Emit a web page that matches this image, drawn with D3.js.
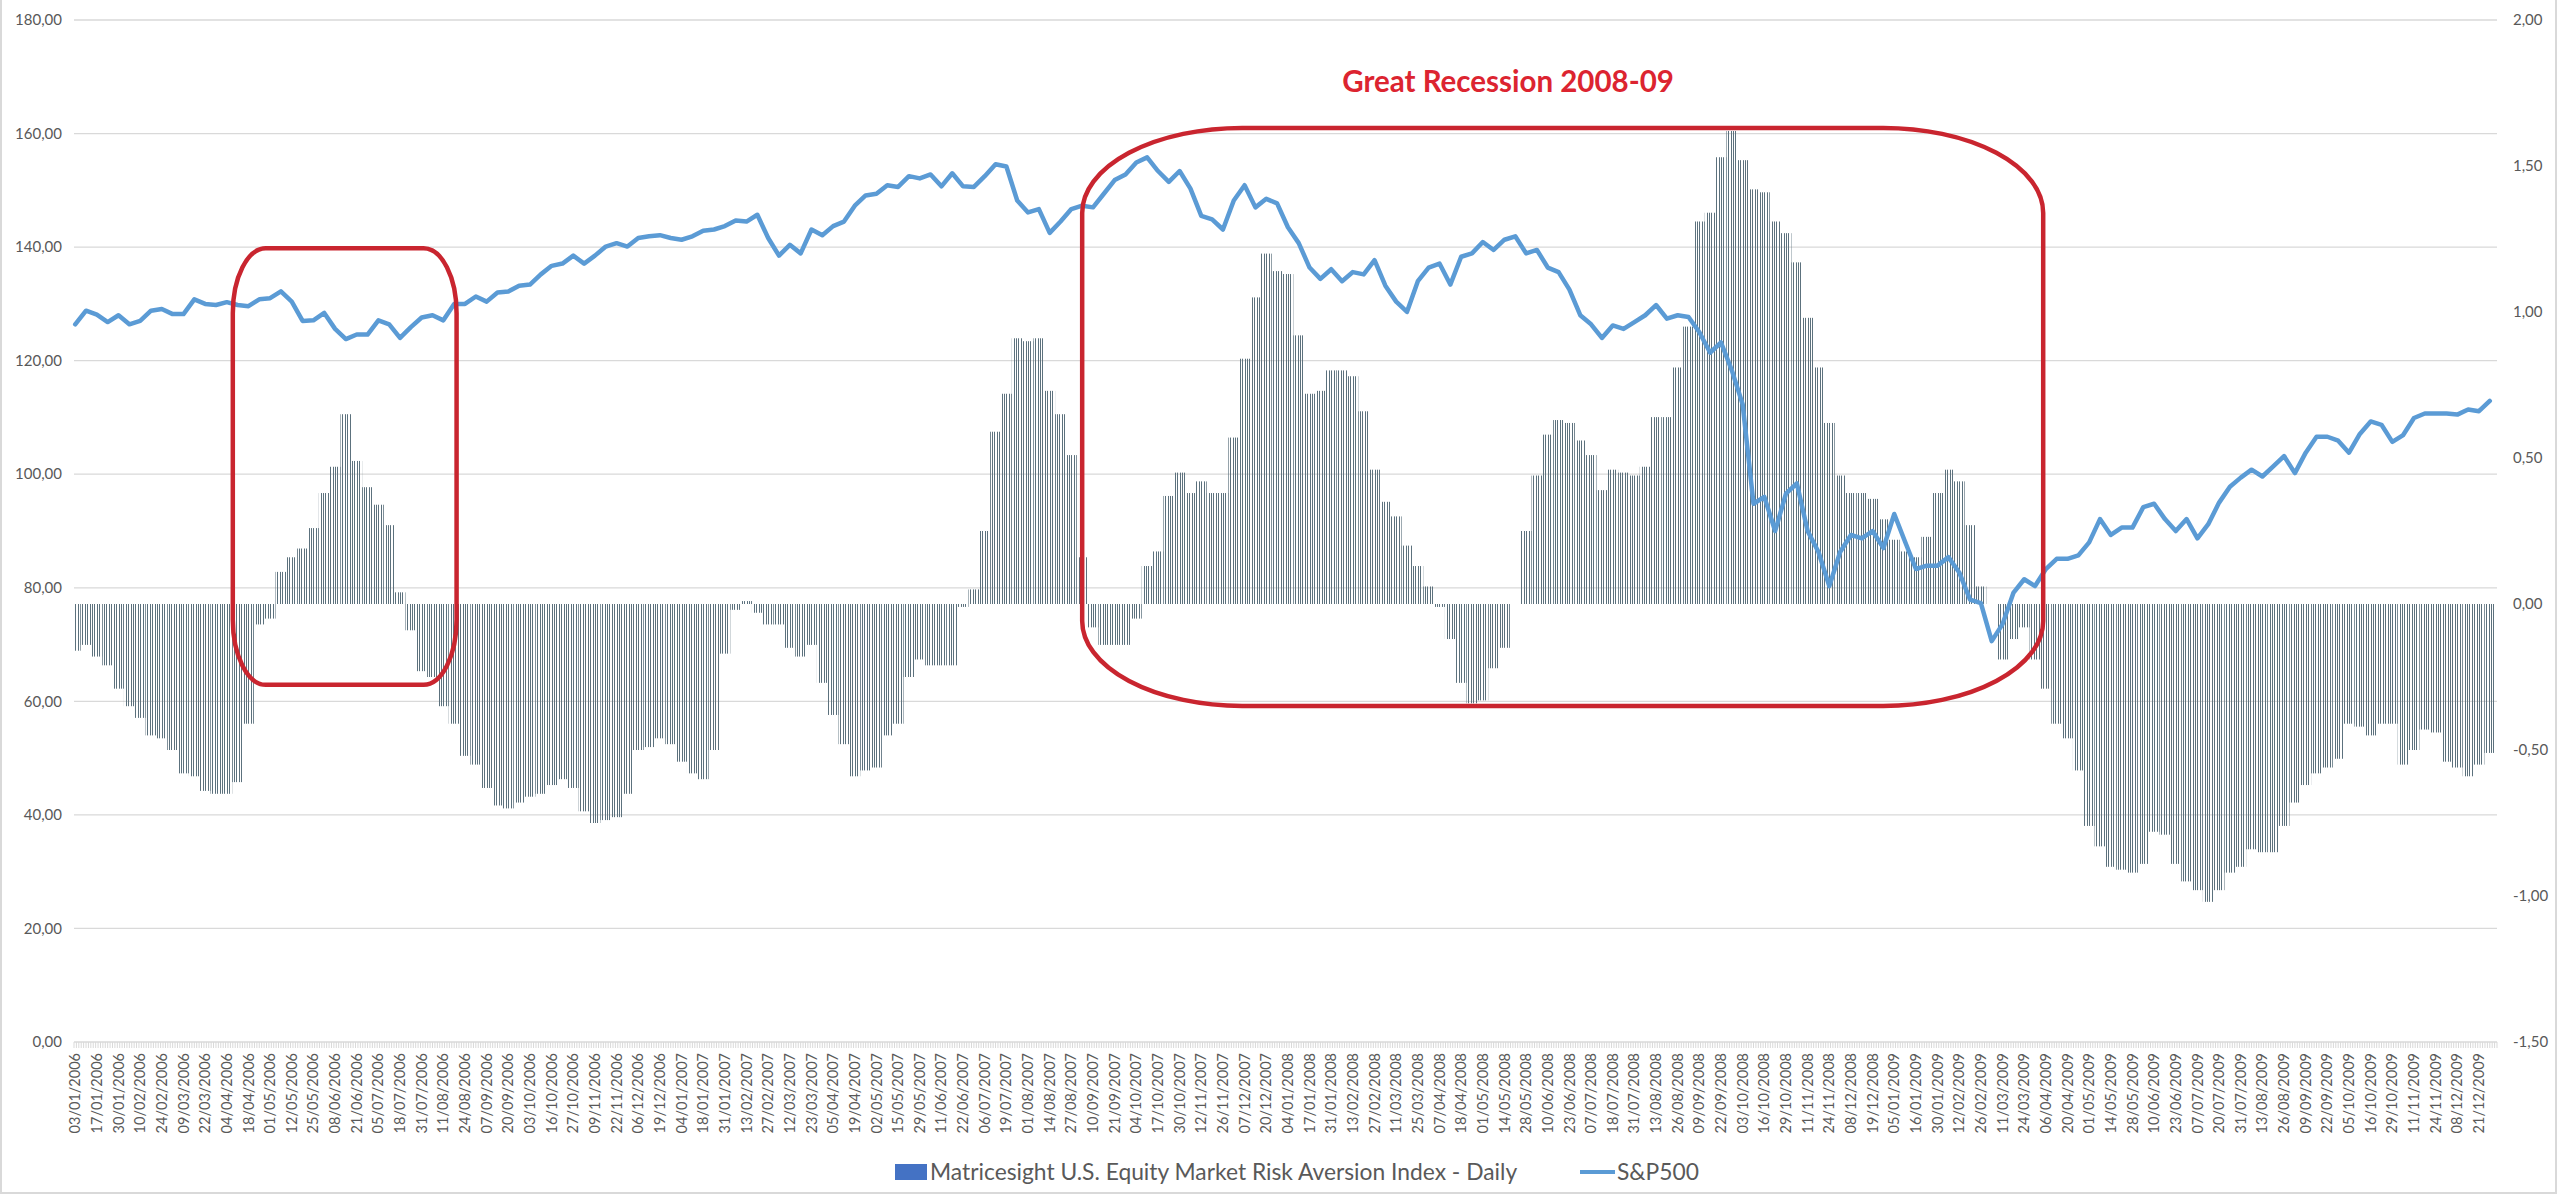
<!doctype html>
<html>
<head>
<meta charset="utf-8">
<script src="https://cdn.jsdelivr.net/npm/d3@7"></script>
<style>
  body { margin: 0; background: #fff; }
  svg { display: block; font-family: Lato, "Open Sans", sans-serif; }
</style>
</head>
<body>
<svg width="2560" height="1196"></svg>
<script>
// category labels, one every 9 trading days
var dateLabels = [
  "03/01/2006","17/01/2006","30/01/2006","10/02/2006","24/02/2006","09/03/2006","22/03/2006","04/04/2006","18/04/2006","01/05/2006",
  "12/05/2006","25/05/2006","08/06/2006","21/06/2006","05/07/2006","18/07/2006","31/07/2006","11/08/2006","24/08/2006","07/09/2006",
  "20/09/2006","03/10/2006","16/10/2006","27/10/2006","09/11/2006","22/11/2006","06/12/2006","19/12/2006","04/01/2007","18/01/2007",
  "31/01/2007","13/02/2007","27/02/2007","12/03/2007","23/03/2007","05/04/2007","19/04/2007","02/05/2007","15/05/2007","29/05/2007",
  "11/06/2007","22/06/2007","06/07/2007","19/07/2007","01/08/2007","14/08/2007","27/08/2007","10/09/2007","21/09/2007","04/10/2007",
  "17/10/2007","30/10/2007","12/11/2007","26/11/2007","07/12/2007","20/12/2007","04/01/2008","17/01/2008","31/01/2008","13/02/2008",
  "27/02/2008","11/03/2008","25/03/2008","07/04/2008","18/04/2008","01/05/2008","14/05/2008","28/05/2008","10/06/2008","23/06/2008",
  "07/07/2008","18/07/2008","31/07/2008","13/08/2008","26/08/2008","09/09/2008","22/09/2008","03/10/2008","16/10/2008","29/10/2008",
  "11/11/2008","24/11/2008","08/12/2008","19/12/2008","05/01/2009","16/01/2009","30/01/2009","12/02/2009","26/02/2009","11/03/2009",
  "24/03/2009","06/04/2009","20/04/2009","01/05/2009","14/05/2009","28/05/2009","10/06/2009","23/06/2009","07/07/2009","20/07/2009",
  "31/07/2009","13/08/2009","26/08/2009","09/09/2009","22/09/2009","05/10/2009","16/10/2009","29/10/2009","11/11/2009","24/11/2009",
  "08/12/2009","21/12/2009"
];

// risk aversion index, read at each label and half way between (every 4.5 trading days)
var riskAversion = [
  -0.16,-0.14,-0.18,-0.21,-0.29,-0.35,-0.39,-0.45,-0.46,-0.50,-0.58,-0.59,-0.64,-0.65,-0.65,-0.61,-0.41,-0.07,-0.05,0.11,
  0.16,0.19,0.26,0.38,0.47,0.65,0.49,0.40,0.34,0.27,0.04,-0.09,-0.23,-0.25,-0.35,-0.41,-0.52,-0.55,
  -0.63,-0.69,-0.70,-0.68,-0.66,-0.65,-0.62,-0.60,-0.63,-0.71,-0.75,-0.74,-0.73,-0.65,-0.50,-0.49,-0.46,-0.48,-0.54,-0.58,
  -0.60,-0.50,-0.17,-0.02,0.01,-0.03,-0.07,-0.07,-0.15,-0.18,-0.14,-0.27,-0.38,-0.48,-0.59,-0.57,
  -0.56,-0.45,-0.41,-0.25,-0.19,-0.21,-0.21,-0.21,-0.01,0.05,0.25,0.59,0.72,0.91,0.90,0.91,0.73,0.65,0.51,0.16,
  -0.08,-0.14,-0.14,-0.14,-0.05,0.13,0.18,0.37,0.45,0.38,0.42,0.38,0.38,0.57,0.84,1.05,1.20,1.14,
  1.13,0.92,0.72,0.73,0.80,0.80,0.78,0.66,0.46,0.35,0.30,0.20,0.13,0.06,-0.01,-0.12,-0.27,-0.34,-0.33,-0.22,
  -0.15,0.00,0.25,0.44,0.58,0.63,0.62,0.56,0.51,0.39,0.46,0.45,0.44,0.47,0.64,0.64,0.81,
  0.95,1.31,1.34,1.53,1.62,1.52,1.42,1.41,1.31,1.27,1.17,0.98,0.81,0.62,0.44,0.38,0.38,0.36,0.29,0.22,
  0.18,0.16,0.23,0.38,0.46,0.42,0.27,0.06,0.00,-0.19,-0.12,-0.08,-0.19,-0.29,-0.41,-0.46,-0.57,
  -0.76,-0.83,-0.90,-0.91,-0.92,-0.89,-0.78,-0.79,-0.89,-0.95,-0.98,-1.02,-0.98,-0.92,-0.90,-0.84,-0.85,-0.85,-0.76,-0.68,
  -0.62,-0.58,-0.56,-0.53,-0.41,-0.42,-0.45,-0.41,-0.41,-0.55,-0.50,-0.43,-0.44,-0.54,-0.56,-0.59,-0.55,-0.51
];

// S&P500 (scaled /10), same sample points
var sp500 = [
  126.4,128.8,128.1,126.8,128.0,126.4,127.0,128.8,129.1,128.2,128.2,130.8,130.0,129.8,130.3,129.8,129.6,130.8,131.0,132.2,
  130.4,127.0,127.1,128.4,125.6,123.8,124.6,124.6,127.1,126.4,124.0,125.9,127.6,128.0,127.1,130.0,130.0,131.3,
  130.4,132.0,132.2,133.2,133.4,135.2,136.7,137.1,138.5,137.1,138.5,140.1,140.7,140.1,141.6,141.9,142.1,141.6,141.3,141.9,
  142.9,143.1,143.7,144.7,144.5,145.7,141.6,138.5,140.4,138.9,143.1,142.1,143.7,144.5,147.3,149.1,
  149.4,150.9,150.6,152.5,152.1,152.8,150.7,153.0,150.7,150.6,152.5,154.6,154.2,148.2,146.1,146.7,142.5,144.5,146.7,147.3,
  147.0,149.4,151.8,152.8,154.9,155.8,153.4,151.5,153.4,150.3,145.5,144.9,143.1,148.2,150.9,147.0,148.5,147.7,
  143.5,140.7,136.4,134.4,136.1,134.0,135.6,135.2,137.7,133.2,130.4,128.6,134.0,136.4,137.1,133.4,138.3,138.9,140.9,139.5,
  141.3,141.9,138.9,139.5,136.4,135.6,132.5,128.0,126.4,124.0,126.2,125.6,126.8,128.0,129.8,127.4,128.0,
  127.7,125.0,121.4,123.2,118.3,112.3,94.8,96.0,90.0,96.6,98.4,90.0,86.3,80.3,86.3,89.3,88.7,90.0,87.0,93.0,
  88.1,83.3,83.9,83.9,85.4,82.7,77.9,77.3,70.6,73.6,79.1,81.5,80.3,83.3,85.1,85.1,85.7,
  88.0,92.1,89.3,90.6,90.6,94.2,94.8,92.1,90.0,92.1,88.7,91.2,95.0,97.8,99.4,100.8,99.6,101.4,103.2,100.2,
  103.8,106.6,106.6,105.9,103.8,107.1,109.3,108.7,105.7,106.9,109.9,110.7,110.7,110.7,110.5,111.4,111.1,112.9
];

var leftTicks = [0, 20, 40, 60, 80, 100, 120, 140, 160, 180];
var rightTicks = [-1.5, -1, -0.5, 0, 0.5, 1, 1.5, 2];

var nDays = 1007;      // trading days 2006-2009
var labelEvery = 9;    // trading days between labels
var step = 4.5;        // trading days between samples

var svg = d3.select("svg");
var x = d3.scaleLinear().domain([0, nDays]).range([74, 2497]);
var yL = d3.scaleLinear().domain([0, 180]).range([1042, 20]);
var yR = d3.scaleLinear().domain([-1.5, 2]).range([1042, 20]);

var loc = d3.formatLocale({decimal: ",", thousands: ".", grouping: [3], currency: ["", ""], minus: "-"});
var fmt = loc.format(".2f");

// chart frame
svg.append("rect").attr("x", 1).attr("y", -4).attr("width", 2555).attr("height", 1197)
   .attr("fill", "none").attr("stroke", "#d9d9d9").attr("stroke-width", 2);

// gridlines
svg.append("g").selectAll("line").data(leftTicks.filter(function(d){ return d > 0; })).join("line")
   .attr("x1", x(0)).attr("x2", x(nDays))
   .attr("y1", function(d){ return yL(d); }).attr("y2", function(d){ return yL(d); })
   .attr("stroke", "#d9d9d9").attr("stroke-width", 1.3);

// axis labels
svg.append("g").selectAll("text").data(leftTicks).join("text")
   .attr("x", 62).attr("y", function(d){ return yL(d); }).attr("dy", "0.35em")
   .attr("text-anchor", "end").attr("font-size", 15).attr("fill", "#595959")
   .text(fmt);
svg.append("g").selectAll("text").data(rightTicks).join("text")
   .attr("x", 2513).attr("y", function(d){ return yR(d); }).attr("dy", "0.35em")
   .attr("text-anchor", "start").attr("font-size", 15).attr("fill", "#595959")
   .text(fmt);

// bars: one rect per sample, drawn as thin daily strokes like the original
function x0(i){ return x(Math.max(0, i*step - 1.75)); }
function x1(i){ return x(Math.min(nDays, i*step + 2.75)); }
svg.append("defs").append("clipPath").attr("id", "barsClip")
   .selectAll("rect").data(riskAversion).join("rect")
   .attr("x", function(d, i){ return x0(i); })
   .attr("width", function(d, i){ return x1(i) - x0(i); })
   .attr("y", function(d){ return yR(Math.max(0, d)); })
   .attr("height", function(d){ return Math.abs(yR(d) - yR(0)); });
svg.append("g").attr("clip-path", "url(#barsClip)")
   .selectAll("line").data(d3.range(nDays)).join("line")
   .attr("x1", function(d){ return Math.round(x(d + 0.5)) + 0.5; })
   .attr("x2", function(d){ return Math.round(x(d + 0.5)) + 0.5; })
   .attr("y1", yR(2)).attr("y2", yR(-1.5))
   .attr("stroke", "#5c717d").attr("stroke-width", 1);

// category axis with its dense tick marks
svg.append("line").attr("x1", x(0)).attr("x2", x(nDays)).attr("y1", yL(0)).attr("y2", yL(0))
   .attr("stroke", "#d9d9d9").attr("stroke-width", 1.3);
svg.append("g").selectAll("line").data(d3.range(nDays + 1)).join("line")
   .attr("x1", function(d){ return x(d); }).attr("x2", function(d){ return x(d); })
   .attr("y1", yL(0)).attr("y2", yL(0) + 6)
   .attr("stroke", "#d9d9d9").attr("stroke-width", 1);
svg.append("g").selectAll("text").data(dateLabels).join("text")
   .attr("transform", function(d, i){ return "translate(" + x(i*labelEvery + 0.5) + "," + (yL(0) + 11) + ") rotate(-90)"; })
   .attr("text-anchor", "end").attr("dy", "0.35em")
   .attr("font-size", 14.5).attr("fill", "#595959")
   .text(function(d){ return d; });

// S&P500 line
var line = d3.line()
   .x(function(d, i){ return x(i*step + 0.5); })
   .y(function(d){ return yL(d); });
svg.append("path").datum(sp500).attr("d", line)
   .attr("fill", "none").attr("stroke", "#5b9bd5").attr("stroke-width", 4.5)
   .attr("stroke-linejoin", "round").attr("stroke-linecap", "round");

// annotation boxes (in trading days / left-axis units)
var boxes = [
  {d0: 66, d1: 159, v0: 62.9, v1: 139.8, rx: 33, ry: 65},
  {d0: 419, d1: 818.4, v0: 59.2, v1: 161, rx: 160, ry: 85}
];
svg.append("g").selectAll("rect").data(boxes).join("rect")
   .attr("x", function(b){ return x(b.d0); }).attr("y", function(b){ return yL(b.v1); })
   .attr("width", function(b){ return x(b.d1) - x(b.d0); })
   .attr("height", function(b){ return yL(b.v0) - yL(b.v1); })
   .attr("rx", function(b){ return b.rx; }).attr("ry", function(b){ return b.ry; })
   .attr("fill", "none").attr("stroke", "#c9252f").attr("stroke-width", 4.5);

svg.append("text").attr("x", x(596)).attr("y", yL(167.3))
   .attr("text-anchor", "middle").attr("font-size", 29.5).attr("font-weight", "bold")
   .attr("fill", "#dc2430").text("Great Recession 2008-09");

// legend
var lg = svg.append("g").attr("transform", "translate(0,1172)");
lg.append("rect").attr("x", 895).attr("y", -8).attr("width", 32).attr("height", 16).attr("fill", "#4472c4");
lg.append("text").attr("x", 930).attr("dy", "0.35em").attr("font-size", 22.8).attr("fill", "#595959")
  .text("Matricesight U.S. Equity Market Risk Aversion Index - Daily");
lg.append("line").attr("x1", 1580).attr("x2", 1615).attr("stroke", "#5b9bd5").attr("stroke-width", 4);
lg.append("text").attr("x", 1617).attr("dy", "0.35em").attr("font-size", 22.8).attr("fill", "#595959")
  .text("S&P500");
</script>
</body>
</html>
